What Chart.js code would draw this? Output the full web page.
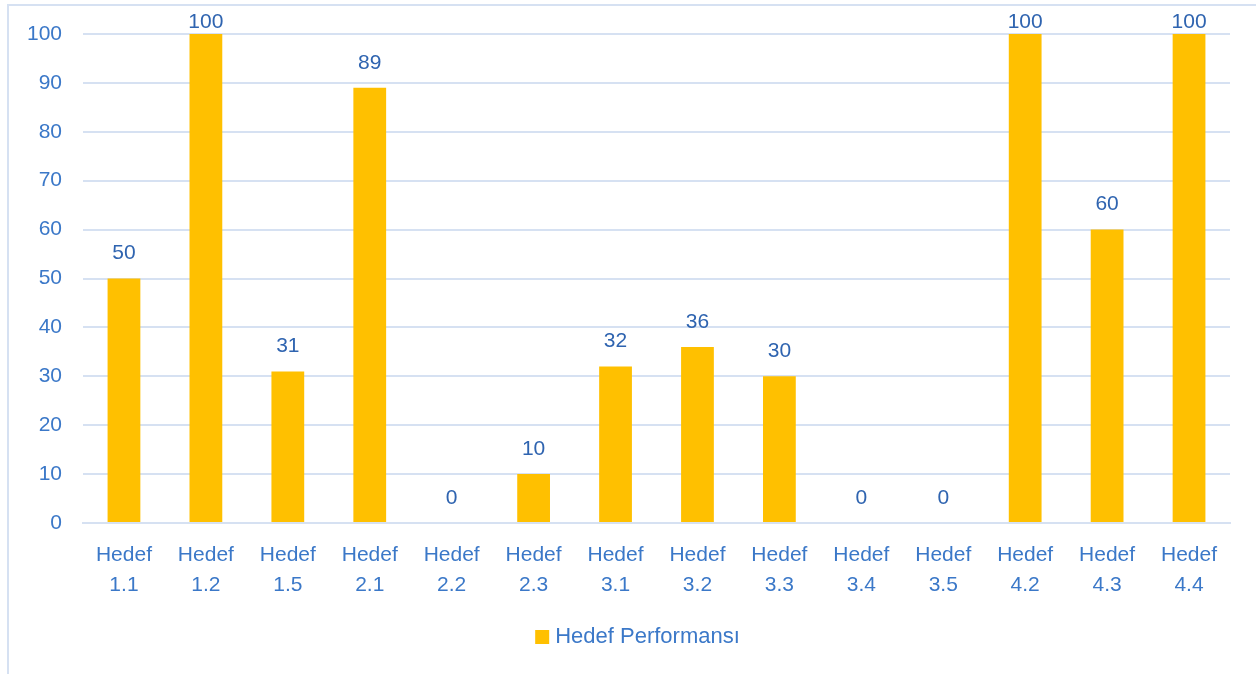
<!DOCTYPE html>
<html>
<head>
  <meta charset="utf-8" />
  <title>Hedef Performansı</title>
  <style>
    body { margin: 0; background: #fff; overflow: hidden; }
    #frame {
      position: absolute; left: 7px; top: 4px;
      width: 1300px; height: 700px;
      border: 2px solid #d6e1f2;
    }
    #wrap { position: absolute; left: 0; top: 0; width: 1256px; height: 674px; }
  </style>
</head>
<body>
  <div id="frame"></div>
  <div id="wrap"><canvas id="chart"></canvas></div>

  <script src="https://cdn.jsdelivr.net/npm/chart.js"></script>
  <script>
    const categories = ['1.1', '1.2', '1.5', '2.1', '2.2', '2.3', '3.1', '3.2', '3.3', '3.4', '3.5', '4.2', '4.3', '4.4'];
    const performance = [50, 100, 31, 89, 0, 10, 32, 36, 30, 0, 0, 100, 60, 100];
    const yTicks = [0, 10, 20, 30, 40, 50, 60, 70, 80, 90, 100];

    const tickBlue = '#3b78c8';
    const labelBlue = '#2f64b0';
    const barColor = '#ffc000';
    const fontFamily = "'Liberation Sans', Arial, sans-serif";

    // value labels above each bar (kept inside the top of the chart)
    const barLabels = {
      id: 'barLabels',
      afterDatasetsDraw(chart) {
        const ctx = chart.ctx;
        const meta = chart.getDatasetMeta(0);
        ctx.save();
        ctx.fillStyle = labelBlue;
        ctx.font = '21px ' + fontFamily;
        ctx.textAlign = 'center';
        ctx.textBaseline = 'middle';
        meta.data.forEach((bar, i) => {
          const y = Math.max(bar.y - 25, chart.chartArea.top - 12);
          ctx.fillText(String(performance[i]), bar.x, y);
        });
        ctx.restore();
      }
    };

    // legend below the axis, centred a little left of the plot centre like the original
    const bottomLegend = {
      id: 'bottomLegend',
      afterDraw(chart) {
        const ctx = chart.ctx;
        const ds = chart.data.datasets[0];
        ctx.save();
        ctx.font = '22px ' + fontFamily;
        const tw = ctx.measureText(ds.label).width;
        const box = 14, gap = 6;
        const total = box + gap + tw;
        const cx = (chart.chartArea.left + chart.chartArea.right) / 2 - 19;
        const cy = chart.chartArea.bottom + 114;
        const x0 = cx - total / 2;
        ctx.fillStyle = ds.backgroundColor;
        ctx.fillRect(x0, cy - box / 2, box, box);
        ctx.fillStyle = tickBlue;
        ctx.textAlign = 'left';
        ctx.textBaseline = 'middle';
        ctx.fillText(ds.label, x0 + box + gap, cy);
        ctx.restore();
      }
    };

    new Chart(document.getElementById('chart'), {
      type: 'bar',
      data: {
        labels: categories.map(c => ['Hedef', c]),
        datasets: [{
          label: 'Hedef Performansı',
          data: performance,
          backgroundColor: barColor,
          borderWidth: 0,
          barPercentage: 0.4,
          categoryPercentage: 1
        }]
      },
      options: {
        responsive: true,
        maintainAspectRatio: false,
        animation: false,
        layout: { padding: { top: 34, right: 26, left: 0, bottom: 59 } },
        plugins: {
          tooltip: { enabled: false },
          legend: { display: false }
        },
        scales: {
          x: {
            grid: { display: false, drawTicks: false },
            border: { color: '#d6e1f2', width: 2 },
            ticks: {
              color: tickBlue,
              font: { family: fontFamily, size: 21, lineHeight: 1.43 },
              padding: 17,
              maxRotation: 0,
              autoSkip: false
            },
            afterFit(scale) { scale.height = 92; }
          },
          y: {
            min: 0,
            max: 100,
            afterBuildTicks(scale) { scale.ticks = yTicks.map(v => ({ value: v })); },
            grid: { color: '#d6e1f2', lineWidth: 2, drawTicks: false },
            border: { display: false },
            ticks: {
              color: tickBlue,
              font: { family: fontFamily, size: 21 },
              padding: 21
            },
            afterFit(scale) { scale.width = 83; }
          }
        }
      },
      plugins: [barLabels, bottomLegend]
    });
  </script>
</body>
</html>
